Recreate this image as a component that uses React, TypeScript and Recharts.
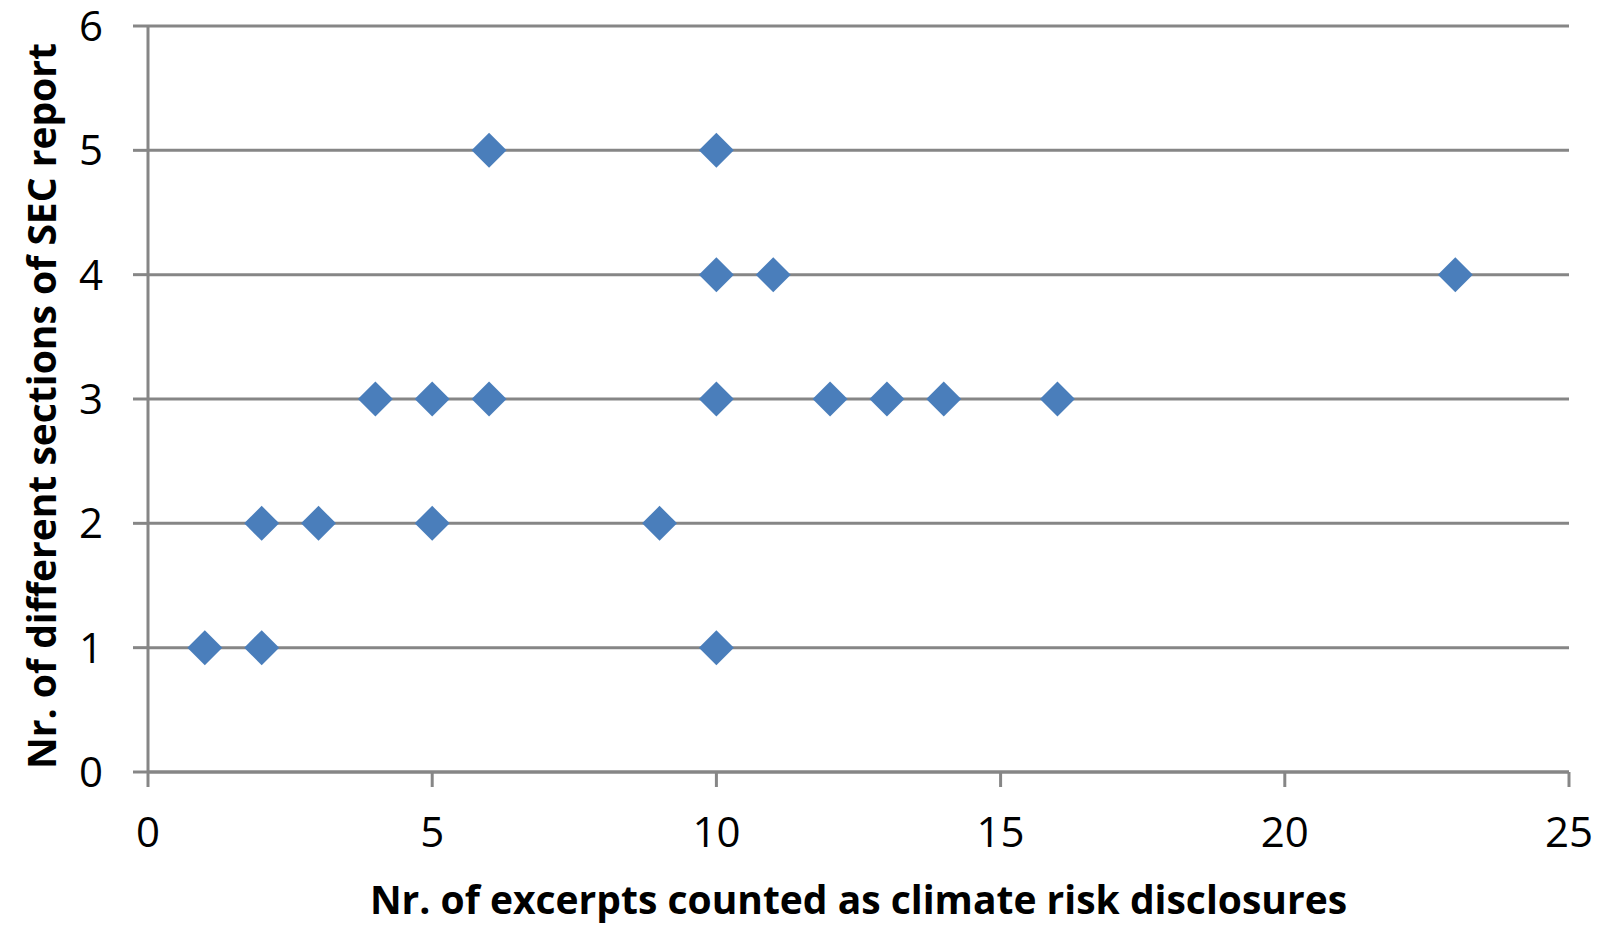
import React from 'react';
import { ScatterChart, Scatter, XAxis, YAxis, CartesianGrid } from 'recharts';

const excerpts = [6, 10, 10, 11, 23, 4, 5, 6, 10, 12, 13, 14, 16, 2, 3, 5, 9, 1, 2, 10];
const sections = [5, 5, 4, 4, 4, 3, 3, 3, 3, 3, 3, 3, 3, 2, 2, 2, 2, 1, 1, 1];
const xTicks = [0, 5, 10, 15, 20, 25];
const yTicks = [0, 1, 2, 3, 4, 5, 6];
const xTitle = 'Nr. of excerpts counted as climate risk disclosures';
const yTitle = 'Nr. of different sections of SEC report';

const data = excerpts.map((x, i) => ({ x, y: sections[i] }));

const GRAY = '#868686';
const BLUE = '#4a7ebb';
const FONT = '"Open Sans", sans-serif';

const Diamond = (props: any) => {
  const { cx, cy } = props;
  const r = 17.5;
  return (
    <polygon
      points={`${cx},${cy - r} ${cx + r},${cy} ${cx},${cy + r} ${cx - r},${cy}`}
      fill={BLUE}
    />
  );
};

const YTitle = (props: any) => {
  const vb = props.viewBox || { x: 0, y: 0, width: 0, height: 0 };
  const cx = vb.x + 40;
  const cy = vb.y + vb.height / 2 + 7;
  return (
    <text
      x={cx}
      y={cy}
      transform={`rotate(-90 ${cx} ${cy})`}
      textAnchor="middle"
      dominantBaseline="central"
      fontFamily={FONT}
      fontWeight="bold"
      fontSize={39}
      fill="#000"
    >
      {yTitle}
    </text>
  );
};

const XTitle = (props: any) => {
  const vb = props.viewBox || { x: 0, y: 0, width: 0, height: 0 };
  const cx = vb.x + vb.width / 2;
  const cy = vb.y + vb.height - 14;
  return (
    <text
      x={cx}
      y={cy}
      textAnchor="middle"
      fontFamily={FONT}
      fontWeight="bold"
      fontSize={39}
      fill="#000"
    >
      {xTitle}
    </text>
  );
};

export default function App() {
  return (
    <div style={{ position: 'absolute', left: 0, top: 0, background: '#fff' }}>
      <ScatterChart
        width={1599}
        height={928}
        margin={{ top: 26, right: 30, left: 0, bottom: 0 }}
      >
        <CartesianGrid vertical={false} stroke={GRAY} strokeWidth={3} />
        <XAxis
          type="number"
          dataKey="x"
          domain={[0, 25]}
          ticks={xTicks}
          height={156}
          stroke={GRAY}
          strokeWidth={3}
          tickSize={15}
          tickMargin={30}
          tick={{ fill: '#000', fontSize: 42, fontFamily: FONT }}
          tickLine={{ stroke: GRAY, strokeWidth: 3 }}
          axisLine={{ stroke: GRAY, strokeWidth: 3 }}
          label={<XTitle />}
        />
        <YAxis
          type="number"
          dataKey="y"
          domain={[0, 6]}
          ticks={yTicks}
          width={148}
          stroke={GRAY}
          strokeWidth={3}
          tickSize={15}
          tickMargin={30}
          tick={{ fill: '#000', fontSize: 42, fontFamily: FONT }}
          tickLine={{ stroke: GRAY, strokeWidth: 3 }}
          axisLine={{ stroke: GRAY, strokeWidth: 3 }}
          label={<YTitle />}
        />
        <Scatter data={data} shape={<Diamond />} isAnimationActive={false} />
      </ScatterChart>
    </div>
  );
}
